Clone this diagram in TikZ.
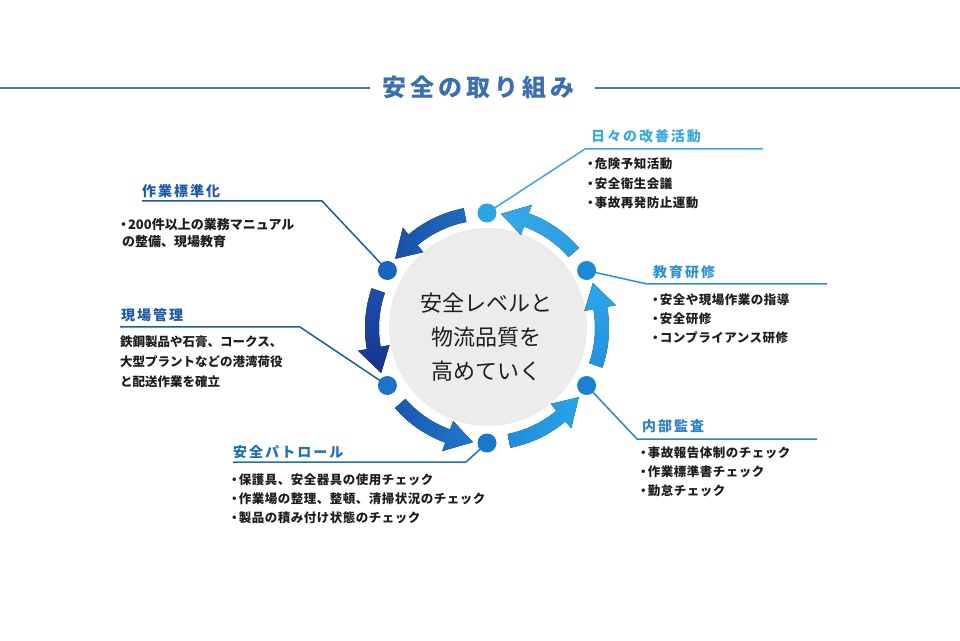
\documentclass[tikz,border=0pt]{standalone}
\usepackage{fontspec}
\usetikzlibrary{calc}
\setmainfont{Noto Sans CJK JP}
\newfontfamily\jptitle[LetterSpace=17]{Noto Sans CJK JP}
\newfontfamily\jplabel[LetterSpace=14]{Noto Sans CJK JP}
\newfontfamily\jpbul[LetterSpace=4]{Noto Sans CJK JP}
\newfontfamily\jpbody{Noto Sans CJK JP}
\definecolor{titleblue}{HTML}{3A6FB2}
\definecolor{titleline}{HTML}{4A78B0}
\definecolor{coregray}{HTML}{ECECEC}
\definecolor{txtdark}{HTML}{1E1E1E}
\definecolor{arA1}{HTML}{2A9EE2}
\definecolor{arA2}{HTML}{36A9E8}
\definecolor{arB1}{HTML}{1F6CC0}
\definecolor{arB2}{HTML}{1A50A8}
\definecolor{arC1}{HTML}{1D4FAE}
\definecolor{arC2}{HTML}{17338E}
\definecolor{arD1}{HTML}{1A58AE}
\definecolor{arD2}{HTML}{1F78CE}
\definecolor{arE1}{HTML}{1F8CDA}
\definecolor{arE2}{HTML}{2AA4E8}
\definecolor{arF1}{HTML}{2292E0}
\definecolor{arF2}{HTML}{2CA6EA}
\definecolor{dtop}{HTML}{2AA7E2}
\definecolor{dul}{HTML}{1566C0}
\definecolor{dll}{HTML}{1B74C8}
\definecolor{dbot}{HTML}{1A78CC}
\definecolor{dlr}{HTML}{1A82D2}
\definecolor{dur}{HTML}{1A8AD6}
\definecolor{lnA}{HTML}{3AA9E0}
\definecolor{lnB}{HTML}{2C92D6}
\definecolor{lnC}{HTML}{2A84C8}
\definecolor{lnD}{HTML}{1E6FBE}
\definecolor{lnE}{HTML}{1D5BA8}
\newcommand{\cyclearrow}[2]{%
  \pgfmathsetmacro\arS{#1+11}%
  \pgfmathsetmacro\arB{#1+40}%
  \pgfmathsetmacro\arT{#1+53}%
  \fill[#2, shift={(C)}] (\arS:122) arc[start angle=\arS, end angle=\arB, radius=122]
    -- (\arB:131) -- (\arT:115) -- (\arB:99) -- (\arB:108)
    arc[start angle=\arB, end angle=\arS, radius=108] -- cycle;}
\newcommand{\bdot}{\hspace*{-0.4em}・\hspace{-0.15em}}
\tikzset{
  dotnode/.style={circle, inner sep=0pt, minimum size=19pt, fill=#1},
  lbl/.style={anchor=west, inner sep=0pt, text=#1, font=\jplabel\bfseries\fontsize{14}{16}\selectfont},
  bul/.style={anchor=west, inner sep=0pt, text=txtdark, font=\jpbul\bfseries\fontsize{12.5}{14}\selectfont},
  bodytxt/.style={anchor=west, inner sep=0pt, text=txtdark, font=\jpbody\bfseries\fontsize{#1}{15}\selectfont},
  leader/.style={draw=#1, line width=1.5pt},
}
\begin{document}
\begin{tikzpicture}[x=1pt,y=1pt]
\useasboundingbox (0,0) rectangle (960,640);
\fill[white] (0,0) rectangle (960,640);

% title
\node[anchor=west, inner sep=0pt, text=titleblue, font=\jptitle\bfseries\fontsize{24}{28}\selectfont] (title) at (382,552.5) {安全の取り組み};
\coordinate (tlL0) at (0,552);
\coordinate (tlL1) at (370,552);
\coordinate (tlR0) at (595,552);
\coordinate (tlR1) at (960,552);
\draw[titleline, line width=2pt] (tlL0) -- (tlL1);
\draw[titleline, line width=2pt] (tlR0) -- (tlR1);

% centre
\coordinate (C) at (487,312);
\node[circle, fill=coregray, minimum size=198pt, inner sep=0pt] (core) at (488,313) {};
\node[align=center, inner sep=0pt, text=txtdark, font=\jpbody\fontsize{22}{34}\selectfont] (ctext) at (486,303) {安全レベルと\\物流品質を\\高めていく};

% arrows
\cyclearrow{30}{left color=arA2, right color=arA1}
\cyclearrow{90}{left color=arB2, right color=arB1}
\cyclearrow{150}{top color=arC1, bottom color=arC2}
\cyclearrow{210}{left color=arD1, right color=arD2}
\cyclearrow{270}{left color=arE1, right color=arE2}
\cyclearrow{330}{bottom color=arF1, top color=arF2}

% dot positions
\coordinate (p90) at ($(C)+(90:115)$);
\coordinate (p150) at ($(C)+(150:115)$);
\coordinate (p210) at ($(C)+(210:115)$);
\coordinate (p270) at ($(C)+(270:115)$);
\coordinate (p330) at ($(C)+(330:115)$);
\coordinate (p30) at ($(C)+(30:115)$);

% leader bends and ends
\coordinate (bA) at (585,491); \coordinate (eA) at (763,491);
\coordinate (bB) at (647,356); \coordinate (eB) at (827,356);
\coordinate (bC) at (637,201); \coordinate (eC) at (817,201);
\coordinate (bD) at (466,178); \coordinate (eD) at (233,178);
\coordinate (bE) at (322,439); \coordinate (eE) at (142,439);
\coordinate (bF) at (300,313); \coordinate (eF) at (120,313);

\draw[leader=lnA] (p90) -- (bA) -- (eA);
\draw[leader=lnB] (p30) -- (bB) -- (eB);
\draw[leader=lnC] (p330) -- (bC) -- (eC);
\draw[leader=lnD] (p270) -- (bD) -- (eD);
\draw[leader=lnE] (p150) -- (bE) -- (eE);
\draw[leader=lnE] (p210) -- (bF) -- (eF);

% dots
\node[dotnode=dtop] (d90) at (p90) {};
\node[dotnode=dul] (d150) at (p150) {};
\node[dotnode=dll] (d210) at (p210) {};
\node[dotnode=dbot] (d270) at (p270) {};
\node[dotnode=dlr] (d330) at (p330) {};
\node[dotnode=dur] (d30) at (p30) {};

% 日々の改善活動
\node[lbl=lnA] (tA) at (591,503.5) {日々の改善活動};
\node[bul] (a1) at (589,476) {\bdot 危険予知活動};
\node[bul] (a2) at (589,456) {\bdot 安全衛生会議};
\node[bul] (a3) at (589,437) {\bdot 事故再発防止運動};

% 教育研修
\node[lbl=lnB] (tB) at (653,367.5) {教育研修};
\node[bul] (b1) at (654,340) {\bdot 安全や現場作業の指導};
\node[bul] (b2) at (654,321) {\bdot 安全研修};
\node[bul] (b3) at (654,302) {\bdot コンプライアンス研修};

% 内部監査
\node[lbl=lnC] (tC) at (642,213.5) {内部監査};
\node[bul] (c1) at (642,187) {\bdot 事故報告体制のチェック};
\node[bul] (c2) at (642,168) {\bdot 作業標準書チェック};
\node[bul] (c3) at (642,149) {\bdot 勤怠チェック};

% 安全パトロール
\node[lbl=lnD] (tD) at (233,188) {安全パトロール};
\node[bul] (d1) at (233,160) {\bdot 保護具、安全器具の使用チェック};
\node[bul] (d2) at (233,141) {\bdot 作業場の整理、整頓、清掃状況のチェック};
\node[bul] (d3) at (233,122) {\bdot 製品の積み付け状態のチェック};

% 作業標準化
\node[lbl=lnE] (tE) at (142,449) {作業標準化};
\node[bodytxt=13] (e1) at (122,415) {\bdot 200件以上の業務マニュアル};
\node[bodytxt=13] (e2) at (122,398) {の整備、現場教育};

% 現場管理
\node[lbl=lnE] (tF) at (121,325) {現場管理};
\node[bodytxt=12.5] (f1) at (120,298) {鉄鋼製品や石膏、コークス、};
\node[bodytxt=12.5] (f2) at (120,278) {大型プラントなどの港湾荷役};
\node[bodytxt=12.5] (f3) at (120,258) {と配送作業を確立};
\end{tikzpicture}
\end{document}
